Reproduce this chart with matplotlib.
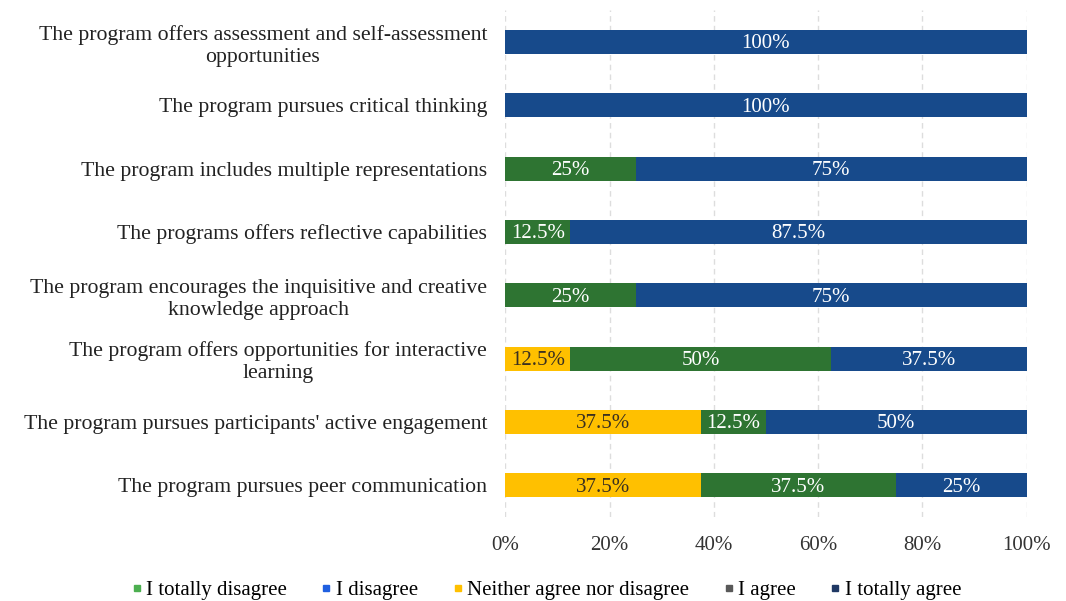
import numpy as np
import matplotlib.pyplot as plt
from matplotlib.lines import Line2D

plt.rcParams['font.family'] = ['Liberation Serif', 'DejaVu Serif']

CATEGORIES = [
    "The program offers assessment and self-assessment\nopportunities",
    "The program pursues critical thinking",
    "The program includes multiple representations",
    "The programs offers reflective capabilities",
    "The program encourages the inquisitive and creative\nknowledge approach",
    "The program offers opportunities for interactive\nlearning",
    "The program pursues participants' active engagement",
    "The program pursues peer communication",
]
TOTALLY_DISAGREE = [0, 0, 0, 0, 0, 0, 0, 0]
DISAGREE = [0, 0, 0, 0, 0, 0, 0, 0]
NEITHER = [0, 0, 0, 0, 0, 12.5, 37.5, 37.5]
AGREE = [0, 0, 25, 12.5, 25, 50, 12.5, 37.5]
TOTALLY_AGREE = [100, 100, 75, 87.5, 75, 37.5, 50, 25]

LEGEND_LABELS = ["I totally disagree", "I disagree", "Neither agree nor disagree",
                 "I agree", "I totally agree"]
LEGEND_COLORS = ["#4caf50", "#1f5fe0", "#ffc000", "#595959", "#1f3864"]

BAR_SERIES = [
    (TOTALLY_DISAGREE, "#4caf50", "white"),
    (DISAGREE, "#1f5fe0", "white"),
    (NEITHER, "#ffc000", "#3a3020"),
    (AGREE, "#2e7432", "white"),
    (TOTALLY_AGREE, "#174a8b", "white"),
]

fig = plt.figure(figsize=(10.66, 6.01), dpi=100)
ax = fig.add_axes([0.474, 0.140, 0.489, 0.843])

y = np.arange(len(CATEGORIES))
left = np.zeros(len(CATEGORIES))
for vals, color, tcolor in BAR_SERIES:
    vals = np.array(vals, dtype=float)
    ax.barh(y, vals, left=left, height=0.38, color=color, zorder=3)
    for yi, v, l in zip(y, vals, left):
        if v > 0:
            ax.text(l + v / 2, yi + 0.03, f"{v:g}%", ha='center', va='center',
                    color=tcolor, fontsize=15, zorder=4)
    left += vals

ax.set_xlim(0, 100)
ax.set_ylim(len(CATEGORIES) - 0.5, -0.5)
ax.set_xticks(np.arange(0, 101, 20))
ax.set_xticklabels([f"{t}%" for t in range(0, 101, 20)], fontsize=15, color='#333333')
ax.set_yticks(y)
ax.set_yticklabels(CATEGORIES, fontsize=15.7, color='#222222', multialignment='center')
ax.tick_params(axis='x', length=0, pad=14)
ax.tick_params(axis='y', length=0, pad=13)
ax.grid(axis='x', color='#dddddd', linestyle=(0, (4, 3)), linewidth=1, zorder=0)
for s in ax.spines.values():
    s.set_visible(False)

handles = [Line2D([], [], marker='s', linestyle='', color=c, markersize=5)
           for c in LEGEND_COLORS]
fig.legend(handles, LEGEND_LABELS, loc='center', bbox_to_anchor=(0.511, 0.018),
           ncol=5, frameon=False, fontsize=15, handletextpad=0.05,
           columnspacing=1.5, handlelength=0.8)

fig.savefig("out.png", dpi=100)
